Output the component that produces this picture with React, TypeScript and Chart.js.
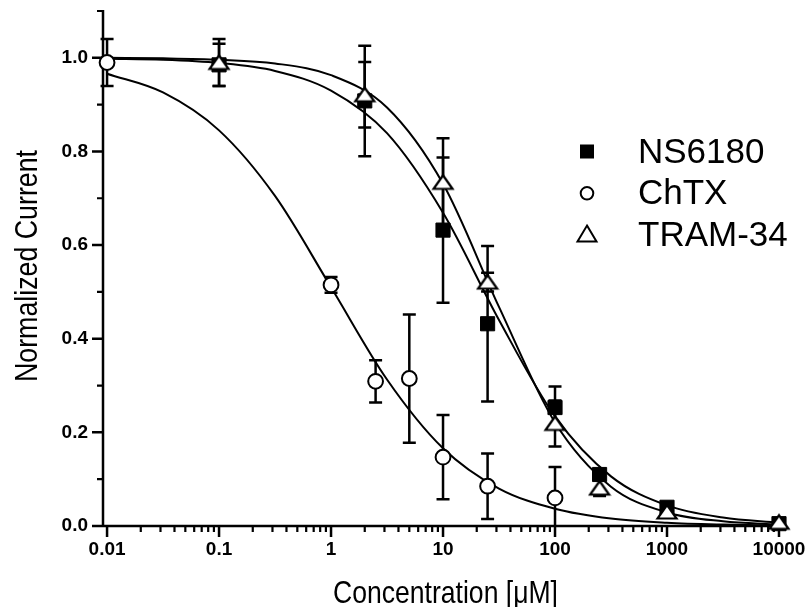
import { useEffect, useRef } from 'react';
import { Chart, registerables } from 'chart.js';

Chart.register(...registerables);

// ---------- axis ticks ----------
const xTickValues = [0.01, 0.1, 1, 10, 100, 1000, 10000];
const xTickLabels = ['0.01', '0.1', '1', '10', '100', '1000', '10000'];
const xMinorMultipliers = [2, 3, 4, 5, 6, 7, 8, 9];
const yTickValues = [0, 0.2, 0.4, 0.6, 0.8, 1.0];
const yTickLabels = ['0.0', '0.2', '0.4', '0.6', '0.8', '1.0'];
const yMinorTicks = [0.1, 0.3, 0.5, 0.7, 0.9, 1.1];

const xTitle = 'Concentration [\u03BCM]';
const yTitle = 'Normalized Current';
const seriesNames = ['NS6180', 'ChTX', 'TRAM-34'];

// ---------- measured points (mean ± SEM) ----------
const ns6180Conc = [0.1, 2, 10, 25, 100, 250, 1000, 10000];
const ns6180Mean = [0.985, 0.908, 0.632, 0.432, 0.253, 0.11, 0.04, 0.005];
const ns6180Err = [0.045, 0.118, 0.155, 0.166, 0.045, 0.012, 0.008, 0.003];

const chtxConc = [0.01, 1, 2.5, 5, 10, 25, 100];
const chtxMean = [0.99, 0.515, 0.309, 0.315, 0.147, 0.085, 0.06];
const chtxErr = [0.05, 0.017, 0.045, 0.137, 0.09, 0.07, 0.066];

const tramConc = [0.1, 2, 10, 25, 100, 250, 1000, 10000];
const tramMean = [0.99, 0.921, 0.734, 0.521, 0.219, 0.081, 0.03, 0.008];
const tramErr = [0.05, 0.07, 0.094, 0.02, 0.049, 0.017, 0.008, 0.004];

// ---------- fitted curves ----------
const fitConc = [0.01, 0.0316, 0.1, 0.316, 1, 3.16, 10, 31.6, 100, 316, 1000, 3160, 10000];
const ns6180Fit = [0.998, 0.996, 0.989, 0.972, 0.930, 0.839, 0.669, 0.440, 0.234, 0.106, 0.044, 0.018, 0.007];
const chtxFit = [0.966, 0.926, 0.845, 0.705, 0.510, 0.313, 0.166, 0.080, 0.037, 0.016, 0.007, 0.003, 0.001];
const tramFit = [1.0, 0.999, 0.996, 0.988, 0.963, 0.894, 0.731, 0.468, 0.221, 0.084, 0.029, 0.010, 0.003];

const FONT = '"Liberation Sans", Arial, Helvetica, sans-serif';

const toXY = (xs: number[], ys: number[]) => xs.map((x, i) => ({ x, y: ys[i] }));

function makeTriangle(): HTMLCanvasElement {
  const c = document.createElement('canvas');
  c.width = 24;
  c.height = 20;
  const g = c.getContext('2d')!;
  g.beginPath();
  g.moveTo(12, 3);
  g.lineTo(21.5, 16.5);
  g.lineTo(2.5, 16.5);
  g.closePath();
  g.fillStyle = '#fff';
  g.fill();
  g.lineWidth = 2.2;
  g.strokeStyle = '#000';
  g.lineJoin = 'miter';
  g.stroke();
  return c;
}

const axesPlugin = {
  id: 'axesTicks',
  beforeDatasetsDraw(chart: any) {
    const { ctx, chartArea } = chart;
    const x = chart.scales.x;
    const y = chart.scales.y;
    const left = chartArea.left;
    const bottom = chartArea.bottom;
    ctx.save();
    ctx.strokeStyle = '#000';
    ctx.lineCap = 'butt';
    ctx.lineWidth = 2.5;
    ctx.beginPath();
    ctx.moveTo(left, chartArea.top - 1);
    ctx.lineTo(left, bottom + 1.25);
    ctx.moveTo(left - 1.25, bottom);
    ctx.lineTo(chartArea.right, bottom);
    yTickValues.forEach((v) => {
      const p = y.getPixelForValue(v);
      ctx.moveTo(left - 11, p);
      ctx.lineTo(left, p);
    });
    xTickValues.forEach((v) => {
      const p = x.getPixelForValue(v);
      ctx.moveTo(p, bottom);
      ctx.lineTo(p, bottom + 11);
    });
    ctx.stroke();
    ctx.lineWidth = 2.2;
    ctx.beginPath();
    yMinorTicks.forEach((v) => {
      const p = y.getPixelForValue(v);
      ctx.moveTo(left - 6, p);
      ctx.lineTo(left, p);
    });
    xTickValues.slice(0, -1).forEach((d) => {
      xMinorMultipliers.forEach((m) => {
        const v = d * m;
        if (v > x.max) return;
        const p = x.getPixelForValue(v);
        ctx.moveTo(p, bottom);
        ctx.lineTo(p, bottom + 6);
      });
    });
    ctx.stroke();
    ctx.restore();
  },
};

const errorBarPlugin = {
  id: 'errorBars',
  beforeDatasetDraw(chart: any, args: any) {
    const ds = chart.data.datasets[args.index];
    if (!ds.errors) return;
    const { ctx, chartArea } = chart;
    const x = chart.scales.x;
    const y = chart.scales.y;
    ctx.save();
    ctx.beginPath();
    ctx.rect(chartArea.left - 20, chartArea.top - 20, chartArea.right - chartArea.left + 40, chartArea.bottom - chartArea.top + 20);
    ctx.clip();
    ctx.strokeStyle = '#000';
    ctx.lineWidth = 2.5;
    ctx.beginPath();
    ds.data.forEach((pt: any, i: number) => {
      const e = ds.errors[i];
      const px = x.getPixelForValue(pt.x);
      const top = y.getPixelForValue(pt.y + e);
      const bot = y.getPixelForValue(pt.y - e);
      ctx.moveTo(px, top);
      ctx.lineTo(px, bot);
      ctx.moveTo(px - 6.5, top);
      ctx.lineTo(px + 6.5, top);
      ctx.moveTo(px - 6.5, bot);
      ctx.lineTo(px + 6.5, bot);
    });
    ctx.stroke();
    ctx.restore();
  },
};

const legendTitlePlugin = {
  id: 'legendTitles',
  afterDraw(chart: any) {
    const { ctx, chartArea } = chart;
    ctx.save();
    ctx.fillStyle = '#000';
    ctx.strokeStyle = '#000';

    // legend
    const mx = 587;
    const tx = 638;
    const base0 = 163;
    const step = 41.3;
    ctx.font = `35px ${FONT}`;
    ctx.textAlign = 'left';
    ctx.textBaseline = 'alphabetic';
    seriesNames.forEach((name, i) => {
      const b = base0 + i * step;
      ctx.fillText(name, tx, b);
      const cy = b - 11.5;
      ctx.lineWidth = 2;
      if (i === 0) {
        ctx.fillRect(mx - 7, cy - 7, 14, 14);
      } else if (i === 1) {
        ctx.beginPath();
        ctx.arc(mx, cy + 0.5, 6.3, 0, Math.PI * 2);
        ctx.fillStyle = '#fff';
        ctx.fill();
        ctx.fillStyle = '#000';
        ctx.stroke();
      } else {
        ctx.beginPath();
        ctx.moveTo(mx, cy - 8.5);
        ctx.lineTo(mx + 9.5, cy + 7.5);
        ctx.lineTo(mx - 9.5, cy + 7.5);
        ctx.closePath();
        ctx.stroke();
      }
    });

    // axis titles (condensed sans)
    ctx.font = `32px ${FONT}`;
    ctx.textAlign = 'center';
    ctx.textBaseline = 'alphabetic';
    const wx = ctx.measureText(xTitle).width;
    ctx.save();
    ctx.translate((chartArea.left + chartArea.right) / 2 + 1, 603);
    ctx.scale(225 / wx, 1);
    ctx.fillText(xTitle, 0, 0);
    ctx.restore();

    const wy = ctx.measureText(yTitle).width;
    ctx.save();
    ctx.translate(36.7, 266);
    ctx.rotate(-Math.PI / 2);
    ctx.scale(232 / wy, 1);
    ctx.fillText(yTitle, 0, 0);
    ctx.restore();

    ctx.restore();
  },
};

export default function App() {
  const ref = useRef<HTMLCanvasElement | null>(null);

  useEffect(() => {
    if (!ref.current) return;
    const tri = makeTriangle();
    const tickFont = { family: FONT, size: 19, weight: 'bold' as const };
    const curve = (label: string, xs: number[], ys: number[]) => ({
      label,
      data: toXY(xs, ys),
      showLine: true,
      borderColor: '#000',
      borderWidth: 2,
      pointRadius: 0,
      fill: false,
      cubicInterpolationMode: 'monotone' as const,
      order: 3,
    });
    const chart = new Chart(ref.current, {
      type: 'scatter',
      data: {
        datasets: [
          {
            label: seriesNames[2],
            data: toXY(tramConc, tramMean),
            errors: tramErr,
            pointStyle: tri,
            pointRadius: 10,
            pointBackgroundColor: '#fff',
            pointBorderColor: '#000',
            clip: false,
            order: 0,
          } as any,
          {
            label: seriesNames[1],
            data: toXY(chtxConc, chtxMean),
            errors: chtxErr,
            pointStyle: 'circle',
            pointRadius: 7.4,
            pointBorderWidth: 2,
            pointBackgroundColor: '#fff',
            pointBorderColor: '#000',
            clip: false,
            order: 1,
          } as any,
          {
            label: seriesNames[0],
            data: toXY(ns6180Conc, ns6180Mean),
            errors: ns6180Err,
            pointStyle: 'rect',
            pointRadius: 10,
            pointBorderWidth: 1,
            pointBackgroundColor: '#000',
            pointBorderColor: '#000',
            clip: false,
            order: 2,
          } as any,
          curve(seriesNames[0] + ' fit', fitConc, ns6180Fit),
          curve(seriesNames[1] + ' fit', fitConc, chtxFit),
          curve(seriesNames[2] + ' fit', fitConc, tramFit),
        ],
      },
      options: {
        responsive: false,
        animation: false,
        events: [],
        layout: { padding: { top: 6, right: 24, left: 0, bottom: 0 } },
        plugins: { legend: { display: false }, tooltip: { enabled: false } },
        scales: {
          x: {
            type: 'logarithmic',
            min: 0.0092,
            max: 11550,
            afterFit: (s: any) => {
              s.height = 81;
              s.paddingLeft = 0;
              s.paddingRight = 0;
            },
            afterBuildTicks: (s: any) => {
              s.ticks = xTickValues.map((v) => ({ value: v }));
            },
            ticks: {
              callback: (_v: any, i: number) => xTickLabels[i],
              autoSkip: false,
              maxRotation: 0,
              minRotation: 0,
              font: tickFont,
              color: '#000',
              padding: 12,
            },
            grid: { display: false, drawTicks: false },
            border: { display: false },
          },
          y: {
            type: 'linear',
            min: 0,
            max: 1.1,
            afterFit: (s: any) => {
              s.width = 103;
              s.paddingTop = 0;
              s.paddingBottom = 0;
            },
            afterBuildTicks: (s: any) => {
              s.ticks = yTickValues.map((v) => ({ value: v }));
            },
            ticks: {
              callback: (_v: any, i: number) => yTickLabels[i],
              font: tickFont,
              color: '#000',
              padding: 15,
            },
            grid: { display: false, drawTicks: false },
            border: { display: false },
          },
        },
      },
      plugins: [axesPlugin, errorBarPlugin, legendTitlePlugin],
    } as any);
    return () => chart.destroy();
  }, []);

  return (
    <div style={{ position: 'fixed', left: 0, top: 0, width: 810, height: 607, background: '#fff' }}>
      <canvas ref={ref} width={810} height={607} style={{ display: 'block' }} />
    </div>
  );
}
